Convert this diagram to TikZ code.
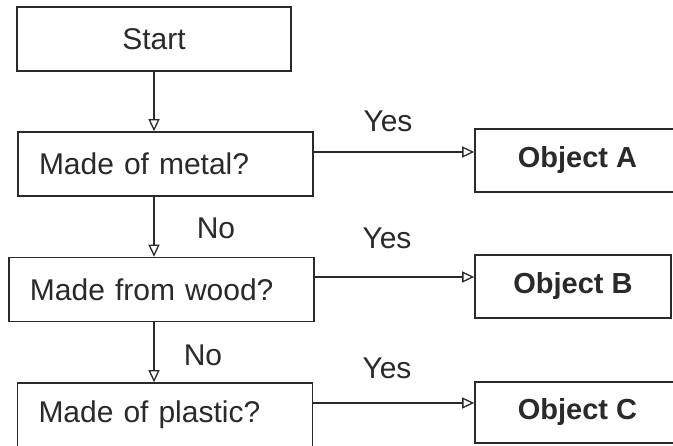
\documentclass[tikz,border=0pt]{standalone}
\usepackage{fontspec}
\setmainfont{Liberation Sans}
\usetikzlibrary{arrows.meta,calc}
\definecolor{ink}{HTML}{2A2A2A}
\tikzset{
  base/.style={draw=ink, line width=1.6pt, text=ink, font=\fontsize{30}{36}\selectfont, inner sep=0pt},
  startbox/.style={base, minimum width=274pt, minimum height=64pt, align=center},
  qbox/.style={base, text width=253pt, inner xsep=21pt, minimum height=64pt, align=left},
  objbox/.style={base, minimum width=205pt, minimum height=63pt, font=\fontsize{29}{34}\selectfont\bfseries},
  lbl/.style={text=ink, font=\fontsize{30}{36}\selectfont, inner sep=0pt},
  conn/.style={draw=ink, line width=1.4pt, -{Triangle[open, length=12pt, width=11pt, line width=1.3pt]}}
}
\begin{document}
\begin{tikzpicture}[x=1pt,y=-1pt]
\clip (0,0) rectangle (673,446);
\fill[white] (0,0) rectangle (673,446);
\node[startbox] (start) at (154,39) {Start};
\node[qbox] (metal) at (165.5,164) {Made of metal?};
\node[qbox, text width=263pt] (wood) at (161.5,289.5) {Made from wood?};
\node[qbox] (plastic) at (165,415) {Made of plastic?};
\node[objbox] (objA) at (577.5,160.5) {Object A};
\node[objbox, minimum width=196pt] (objB) at (573,286.5) {Object B};
\node[objbox, minimum height=61pt] (objC) at (577.5,412.5) {Object C};
\draw[conn] (start.south) -- (start.south |- metal.north);
\draw[conn] (metal.south -| start.south) -- (start.south |- wood.north);
\draw[conn] (wood.south -| start.south) -- (start.south |- plastic.north);
\coordinate (m1) at ([yshift=12pt]metal.east);
\coordinate (w1) at ([yshift=12.5pt]wood.east);
\coordinate (p1) at ([yshift=12pt]plastic.east);
\draw[conn] (m1) -- (m1 -| objA.west);
\draw[conn] (w1) -- (w1 -| objB.west);
\draw[conn] (p1) -- (p1 -| objC.west);
\node[lbl] (yes1) at (388,121) {Yes};
\node[lbl] (yes2) at (387,238) {Yes};
\node[lbl] (yes3) at (387,368) {Yes};
\node[lbl] (no1) at (216,228) {No};
\node[lbl] (no2) at (203,355) {No};
\end{tikzpicture}
\end{document}
